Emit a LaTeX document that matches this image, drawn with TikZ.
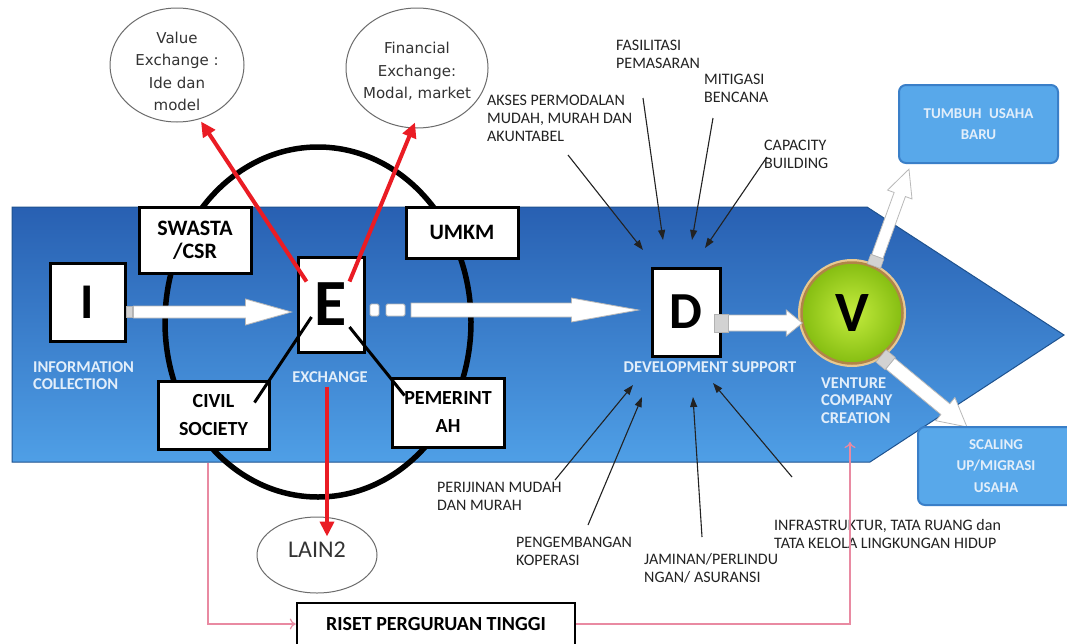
\documentclass[tikz,border=0pt]{standalone}
\usepackage{fontspec}
\setmainfont{Carlito}
\newfontfamily\dvfont{DejaVu Sans}
\usetikzlibrary{shapes.geometric,arrows.meta,calc}
\definecolor{bandtop}{HTML}{2860B2}
\definecolor{bandbot}{HTML}{4F9FE6}
\definecolor{bandedge}{HTML}{1E528F}
\definecolor{boxfill}{HTML}{58A8EA}
\definecolor{boxedge}{HTML}{3A7FC8}
\definecolor{redc}{HTML}{EA1C24}
\definecolor{pinkc}{HTML}{E98AA2}
\definecolor{lblgray}{HTML}{222222}
\definecolor{ellgray}{HTML}{333333}
\definecolor{wtext}{HTML}{E2EEFA}
\definecolor{vin}{HTML}{C4EC3E}
\definecolor{vout}{HTML}{86BE12}
\definecolor{vring}{HTML}{B08448}
\definecolor{vglow}{HTML}{E8C890}
\newcommand\blockarrow[6]{%
 \path let \p1=(#1),\p2=(#2) in \pgfextra{%
   \pgfmathsetmacro\tmpang{atan2(\y2-\y1,\x2-\x1)}\xdef\bang{\tmpang}%
   \pgfmathsetmacro\tmplen{veclen(\x2-\x1,\y2-\y1)}\xdef\blen{\tmplen}};
 \begin{scope}[shift={(#1)},rotate=\bang]
  \draw[barrow] (#6pt,-#3pt) -- ({\blen pt-#5pt},-#3pt) -- ({\blen pt-#5pt},-#4pt) -- (\blen pt,0pt) -- ({\blen pt-#5pt},#4pt) -- ({\blen pt-#5pt},#3pt) -- (#6pt,#3pt) -- cycle;
  \ifdim #6pt>0pt \draw[bconn] (0pt,-#3pt-1pt) rectangle (#6pt,#3pt+1pt);\fi
 \end{scope}}
\begin{document}
\begin{tikzpicture}[x=1pt,y=-1pt,
 wbox/.style={draw=black, line width=3pt, fill=white, inner sep=0pt, align=center, font=\bfseries\fontsize{20}{28}\selectfont},
 letterbox/.style={draw=black, line width=3pt, fill=white, inner sep=0pt},
 bluebox/.style={draw=boxedge, fill=boxfill, rounded corners=7pt, line width=2pt, text=wtext, font=\bfseries\fontsize{15}{21.5}\selectfont, align=center, inner sep=0pt},
 lbl/.style={text=lblgray, font=\fontsize{16}{18}\selectfont, align=left, inner sep=0pt, anchor=west},
 wlbl/.style={text=wtext, font=\bfseries\fontsize{16.5}{17.5}\selectfont, inner sep=0pt, align=left},
 thought/.style={ellipse, draw=gray!85!black, line width=1pt, fill=white, inner sep=0pt},
 etext/.style={text=ellgray, font=\dvfont\fontsize{15}{22.5}\selectfont, align=center, inner sep=0pt},
 redarr/.style={draw=redc, line width=4pt, -{Triangle[length=15pt,width=14pt]}},
 blkarr/.style={draw=lblgray, line width=1.1pt, -{Triangle[length=10pt,width=7pt]}},
 pinkarr/.style={draw=pinkc, line width=1.2pt, -{To[length=6pt,width=11pt]}},
 barrow/.style={fill=white, draw=gray!55, line width=0.8pt},
 bconn/.style={fill=gray!35, draw=gray!60, line width=0.6pt},
 blkline/.style={draw=black, line width=3pt}]
\useasboundingbox (0,0) rectangle (1067,643);
\fill[white] (0,0) rectangle (1067,643);
% band
\shade[top color=bandtop, bottom color=bandbot, draw=bandedge, line width=1pt] (12,207) -- (867,207) -- (1064,335) -- (870,462) -- (12,462) -- cycle;
% big ellipse
\draw[line width=5.5pt] (318,322) ellipse [x radius=153pt, y radius=175pt];
% thought ellipses
\node[thought, minimum width=134pt, minimum height=114pt] (val) at (177,65) {};
\node[etext] (valt) at (177,71.5) {Value\\Exchange :\\Ide dan\\model};
\node[thought, minimum width=142pt, minimum height=120pt] (fin) at (417,68) {};
\node[etext] (fint) at (417,71.5) {Financial\\Exchange:\\Modal, market};
\node[thought, minimum width=120pt, minimum height=76pt] (lain) at (317,555) {};
\node[text=ellgray, font=\fontsize{24}{24}\selectfont, inner sep=0pt] (laint) at (317,550) {LAIN2};
% boxes
\node[letterbox, minimum width=75pt, minimum height=78pt, font=\bfseries\fontsize{50}{50}\selectfont] (I) at (87.5,302) {I};
\node[wbox, minimum width=112pt, minimum height=66pt, font=\bfseries\fontsize{22}{23}\selectfont] (sw) at (195,240) {SWASTA\\/CSR};
\node[wbox, minimum width=112pt, minimum height=51pt, font=\bfseries\fontsize{22}{23}\selectfont] (um) at (462,232.5) {UMKM};
\node[letterbox, minimum width=66pt, minimum height=95pt, font=\bfseries\fontsize{66}{66}\selectfont] (E) at (331,304.5) {E};
\node[wbox, minimum width=111pt, minimum height=68pt] (cs) at (213.5,415) {CIVIL\\SOCIETY};
\node[wbox, minimum width=112pt, minimum height=69pt] (pm) at (448,412.5) {PEMERINT\\AH};
\node[letterbox, minimum width=68pt, minimum height=88pt, font=\bfseries\fontsize{52}{52}\selectfont] (D) at (686,312) {D};
\node[wbox, minimum width=278pt, minimum height=42pt, line width=2.5pt] (riset) at (436,624) {RISET PERGURUAN TINGGI};
\node[bluebox, minimum width=159pt, minimum height=78pt] (tum) at (978.5,124) {TUMBUH\enspace USAHA\\BARU};
% band labels
\node[wlbl, anchor=west] (info) at (33,375.5) {INFORMATION\\COLLECTION};
\node[wlbl] (exch) at (330,377) {EXCHANGE};
\node[wlbl] (dev) at (710,367) {DEVELOPMENT SUPPORT};
\node[wlbl, anchor=west] (ven) at (821,400.5) {VENTURE\\COMPANY\\CREATION};
% V circle
\fill[vglow] (852,313) circle (54pt);
\shade[inner color=vin, outer color=vout] (852,313) circle (50pt);
\node[circle, minimum size=101pt, draw=vring, line width=2.5pt, inner sep=0pt, font=\bfseries\fontsize{57}{57}\selectfont] (V) at (852,313) {V};
% block arrows
\coordinate (ieS) at ($(I.east)+(7,10)$);
\coordinate (ieE) at ($(E.west)+(-5,7.5)$);
\draw[bconn] ($(I.east)+(0,4.5)$) rectangle ($(I.east)+(6,15)$);
\blockarrow{ieS}{ieE}{6}{13}{46}{0}
\draw[barrow, rounded corners=1.5pt] (370,304) rectangle (379,316);
\draw[barrow, rounded corners=1.5pt] (386,304) rectangle (405,316);
\coordinate (edS) at (411,310);
\coordinate (edE) at ($(D.west)+(-12,-2)$);
\blockarrow{edS}{edE}{7}{12}{67}{0}
\coordinate (dvS) at ($(D.east)+(-7,11)$);
\coordinate (dvE) at ($(V.west)+(2,10)$);
\blockarrow{dvS}{dvE}{8}{13}{16}{14}
\coordinate (vtE) at ($(tum.south west)+(11,5)$);
\blockarrow{V.65}{vtE}{6}{13}{27}{10}
\coordinate (vsE) at (967,427);
\blockarrow{V.-56}{vsE}{7}{15}{28}{12}
\node[bluebox, minimum width=156pt, minimum height=78pt] (sc) at (996,466) {SCALING\\UP/MIGRASI\\USAHA};
% red arrows and black lines
\draw[redarr] ($(E.north west)+(10,26)$) -- ($(val.south)+(24,-1)$);
\draw[redarr] ($(E.north east)+(-16,26)$) -- ($(fin.south)+(-2,-6)$);
\draw[redarr] ($(E.south)+(-4,33)$) -- ($(lain.north)+(10,20)$);
\draw[blkline] ($(E.west)+(15,12.5)$) -- ($(cs.north east)+(-16,23)$);
\draw[blkline] ($(E.east)+(-16,22.5)$) -- ($(pm.north west)+(14,19)$);
% top labels
\node[lbl] (akses) at (487,118) {AKSES PERMODALAN\\MUDAH, MURAH DAN\\AKUNTABEL};
\node[lbl] (fasil) at (616,54) {FASILITASI\\PEMASARAN};
\node[lbl] (mitig) at (704,88.5) {MITIGASI\\BENCANA};
\node[lbl] (capac) at (764,154.5) {CAPACITY\\BUILDING};
\coordinate (t1) at (568,155); \coordinate (h1) at (643,250);
\coordinate (t2) at (643,98);  \coordinate (h2) at (663,240);
\coordinate (t3) at (713,118); \coordinate (h3) at (692,240);
\coordinate (t4) at (767,157); \coordinate (h4) at (705,248);
\draw[blkarr] (t1) -- (h1);
\draw[blkarr] (t2) -- (h2);
\draw[blkarr] (t3) -- (h3);
\draw[blkarr] (t4) -- (h4);
% bottom labels
\node[lbl] (perij) at (437,496.5) {PERIJINAN MUDAH\\DAN MURAH};
\node[lbl] (pengem) at (516,551) {PENGEMBANGAN\\KOPERASI};
\node[lbl] (jamin) at (644,568.5) {JAMINAN/PERLINDU\\NGAN/ ASURANSI};
\node[lbl] (infra) at (774,534) {INFRASTRUKTUR, TATA RUANG dan\\TATA KELOLA LINGKUNGAN HIDUP};
\coordinate (t5) at (555,480); \coordinate (h5) at (633,385);
\coordinate (t6) at (588,525); \coordinate (h6) at (642,397);
\coordinate (t7) at (702,537); \coordinate (h7) at (693,397);
\coordinate (t8) at (792,477); \coordinate (h8) at (713,383);
\draw[blkarr] (t5) -- (h5);
\draw[blkarr] (t6) -- (h6);
\draw[blkarr] (t7) -- (h7);
\draw[blkarr] (t8) -- (h8);
% pink connectors
\coordinate (pk1) at (208,463);
\coordinate (pk2) at (850,442);
\draw[pinkarr] (pk1) |- (riset.west);
\draw[pinkarr] (riset.east) -| (pk2);
\end{tikzpicture}
\end{document}
